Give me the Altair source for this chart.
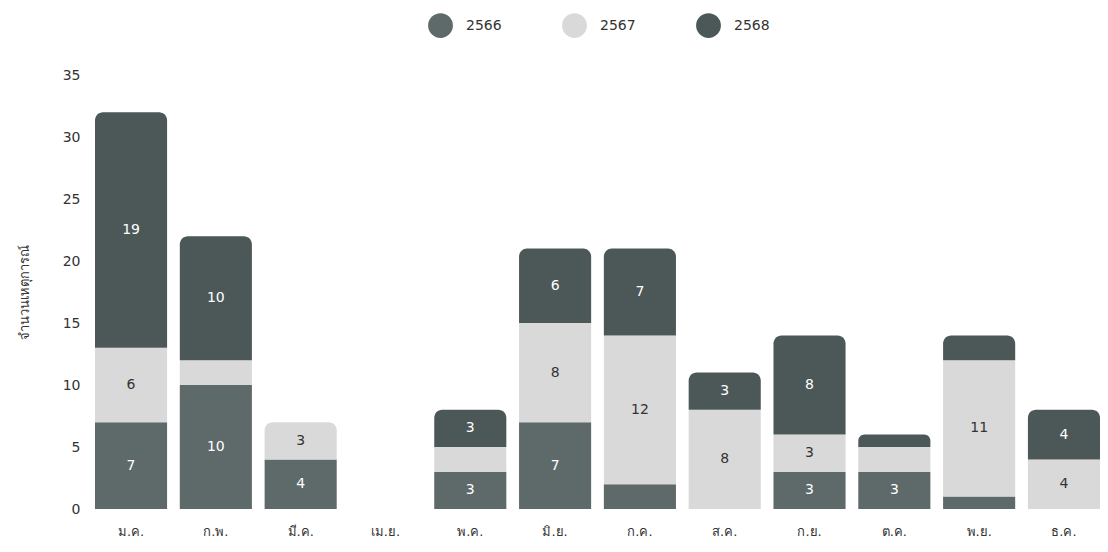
import altair as alt
import pandas as pd

months = ["ม.ค.", "ก.พ.", "มี.ค.", "เม.ย.", "พ.ค.", "มิ.ย.", "ก.ค.", "ส.ค.", "ก.ย.", "ต.ค.", "พ.ย.", "ธ.ค."]
years = ["2566", "2567", "2568"]
v2566 = [7, 10, 4, 0, 3, 7, 2, 0, 3, 3, 1, 0]
v2567 = [6, 2, 3, 0, 2, 8, 12, 8, 3, 2, 11, 4]
v2568 = [19, 10, 0, 0, 3, 6, 7, 3, 8, 1, 2, 4]
colors = ["#5e6969", "#d9d9d9", "#4c5858"]

rows = []
for i, m in enumerate(months):
    for j, (yr, vals) in enumerate(zip(years, [v2566, v2567, v2568])):
        rows.append({"month": m, "year": yr, "order": j, "value": vals[i]})
df = pd.DataFrame(rows)

FONT = "DejaVu Sans"

base = (
    alt.Chart(df)
    .transform_stack(stack="value", groupby=["month"],
                     sort=[alt.SortField("order", order="ascending")], as_=["y0", "y1"])
    .transform_filter("datum.value > 0")
    .transform_joinaggregate(top="max(y1)", groupby=["month"])
    .transform_calculate(is_top="datum.y1 == datum.top", mid="(datum.y0 + datum.y1) / 2")
)

x = alt.X("month:N", sort=months,
          scale=alt.Scale(domain=months, paddingInner=0.15, paddingOuter=0),
          axis=alt.Axis(title=None, labelAngle=0, domain=False, ticks=False, grid=False,
                        labelPadding=16, labelFontSize=13, labelColor="#333", labelFont=FONT))
yaxis = alt.Axis(values=list(range(0, 36, 5)), title="จำนวนเหตุการณ์", domain=False,
                 ticks=False, grid=False, labelPadding=15, labelFontSize=14,
                 labelColor="#333", labelFont=FONT, titleFont=FONT, titleFontSize=13,
                 titleFontWeight="normal", titleColor="#333", titlePadding=31)
yscale = alt.Scale(domain=[0, 35])
y = alt.Y("y1:Q", scale=yscale, axis=yaxis)
color = alt.Color("year:N", scale=alt.Scale(domain=years, range=colors),
                  legend=alt.Legend(title=None, orient="none", direction="horizontal",
                                    legendX=333, legendY=-62, symbolType="circle",
                                    symbolSize=616, symbolOpacity=1, symbolStrokeWidth=0,
                                    labelOffset=13, labelFontSize=14, labelColor="#333",
                                    labelFont=FONT, columnPadding=60, padding=0))

bars_top = base.transform_filter("datum.is_top").mark_bar(
    cornerRadiusTopLeft=8, cornerRadiusTopRight=8).encode(x=x, y=y, y2="y0:Q", color=color)
bars_rest = base.transform_filter("!datum.is_top").mark_bar().encode(
    x=x, y=y, y2="y0:Q", color=color)
text = base.transform_filter("datum.value >= 3").mark_text(fontSize=14, font=FONT).encode(
    x=x, y=alt.Y("mid:Q", scale=yscale, axis=yaxis), text="value:Q",
    color=alt.condition("datum.year == '2567'", alt.value("#333333"), alt.value("#ffffff")))

chart = (
    alt.layer(bars_rest, bars_top, text)
    .properties(width=1005, height=434, autosize="none",
                padding={"left": 87, "top": 67, "right": 0, "bottom": 40},
                view=alt.ViewBackground(stroke="transparent", strokeWidth=0))
    .configure_view(stroke="transparent", strokeWidth=0)
    .configure_axis(domain=False, grid=False, ticks=False)
    .configure(background="white")
)

chart.save("out.html", embed_options={"renderer": "svg", "actions": False})
